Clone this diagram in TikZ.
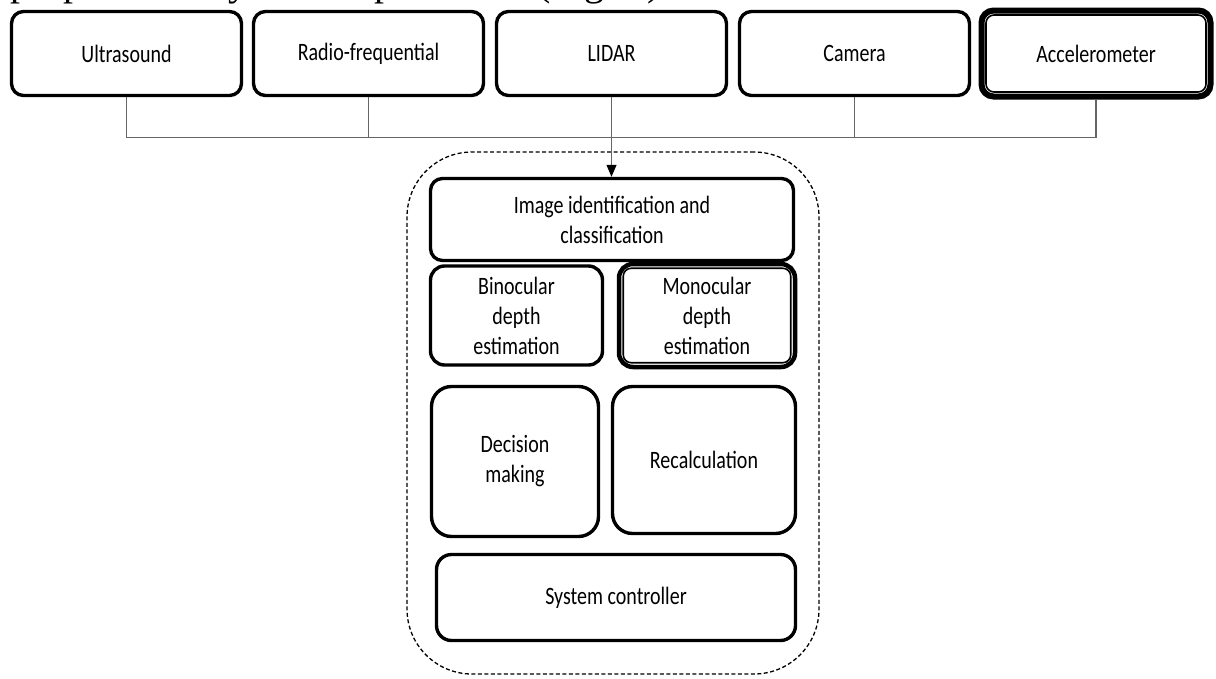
\documentclass[tikz,border=0pt]{standalone}
\usepackage{fontspec}
\setmainfont{Carlito}
\newfontfamily\boxfont[FakeStretch=0.8]{Carlito}
\newfontfamily\serifx{Liberation Serif}
\usetikzlibrary{arrows.meta}
\begin{document}
\begin{tikzpicture}[x=1pt,y=-1pt,
  box/.style={draw=black, line width=3.4pt, rounded corners=12pt, align=center,
    inner sep=0pt, font=\boxfont\fontsize{25}{30}\selectfont, text=black},
  bigbox/.style={box, rounded corners=20pt},
  heavybox/.style={box, line width=6pt},
  innerline/.style={draw=black, line width=1.6pt, rounded corners=8pt},
  conn/.style={draw=black!60, line width=1.2pt},
  frame/.style={draw=black, line width=1.3pt, dash pattern=on 4pt off 2.5pt,
    rounded corners=65pt, inner sep=0pt}]
\fill[white] (0,0) rectangle (1216,678);
\useasboundingbox (0,0) rectangle (1216,678);
% cut-off line of running text at the top
\begin{scope}
\clip (0,0) rectangle (1216,678);
\node[anchor=base west, inner sep=0pt, font=\serifx\fontsize{40}{42}\selectfont] (toptext) at (10,-5) {proposed array is then presented (Fig. 1)};
\end{scope}
% sensors
\node[box, minimum width=230pt, minimum height=84pt] (us) at (126.5,53.5) {Ultrasound};
\node[box, minimum width=230pt, minimum height=84pt] (rf) at (368.5,53.5) {Radio-frequential};
\node[box, minimum width=230pt, minimum height=84pt] (li) at (611.5,53.5) {LIDAR};
\node[box, minimum width=230pt, minimum height=84pt] (ca) at (854.5,53.5) {Camera};
\node[heavybox, minimum width=229pt, minimum height=86pt] (acc) at (1096,53.5) {Accelerometer};
\draw[innerline] ([xshift=7.5pt,yshift=-7.5pt]acc.north west) rectangle ([xshift=-7.5pt,yshift=7.5pt]acc.south east);
% processing frame
\node[frame, minimum width=412pt, minimum height=522pt] (frm) at (613,413) {};
\node[box, minimum width=363pt, minimum height=82pt] (img) at (612,219.5) {Image identification and\\classification};
\node[box, rounded corners=14pt, minimum width=172pt, minimum height=99pt] (bin) at (516.5,315.5) {Binocular\\depth\\estimation};
\node[box, rounded corners=14pt, line width=4.5pt, minimum width=176pt, minimum height=103pt] (mono) at (707,315.5) {Monocular\\depth\\estimation};
\draw[innerline] ([xshift=6.5pt,yshift=-6.5pt]mono.north west) rectangle ([xshift=-6.5pt,yshift=6.5pt]mono.south east);
\node[bigbox, minimum width=167pt, minimum height=150pt] (dec) at (515,461.5) {Decision\\making};
\node[bigbox, minimum width=183pt, minimum height=147pt] (rec) at (704,460) {Recalculation};
\node[box, rounded corners=15pt, minimum width=359pt, minimum height=86pt] (sys) at (616,597.5) {System controller};
% connectors
\coordinate (bus) at (612,137.5);
\draw[conn] (us.south) -- (us.south |- bus) -- (acc.south |- bus) -- (acc.south);
\draw[conn] (rf.south) -- (rf.south |- bus);
\draw[conn] (ca.south) -- (ca.south |- bus);
\draw[conn, -{Triangle[width=10pt,length=12pt,color=black]}] (li.south) -- (li.south |- img.north);
\end{tikzpicture}
\end{document}
